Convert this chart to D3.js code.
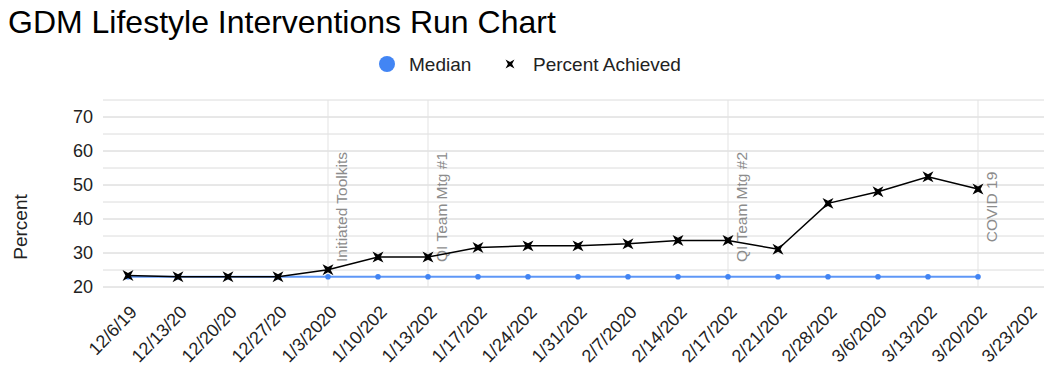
<!DOCTYPE html>
<html><head><meta charset="utf-8">
<script src="https://cdn.jsdelivr.net/npm/d3@7"></script>
<style>
body{margin:0;background:#fff;overflow:hidden}
svg{display:block;font-family:Arial,"Liberation Sans",sans-serif}
</style>
</head><body>
<svg id="chart" width="1044" height="368"></svg>
<script>
// ---- data ----
const categories = ["12/6/19","12/13/20","12/20/20","12/27/20","1/3/2020","1/10/202","1/13/202","1/17/202","1/24/202","1/31/202","2/7/2020","2/14/202","2/17/202","2/21/202","2/28/202","3/6/2020","3/13/202","3/20/202","3/23/202"];
const percentAchieved = [23.4,23.0,23.0,23.0,25.1,28.8,28.8,31.6,32.1,32.1,32.7,33.7,33.7,31.1,44.6,48.0,52.4,48.8];
const median = [23,23,23,23,23,23,23,23,23,23,23,23,23,23,23,23,23,23];
const yTicks = [20,30,40,50,60,70];
const yMinorTicks = [25,35,45,55,65,75];
const annotationDates = ["1/3/2020","1/13/202","2/17/202","3/20/202"];
const annotationTexts = ["Initiated Toolkits","QI Team Mtg #1","QI Team Mtg #2","COVID 19"];

// ---- layout ----
const svg = d3.select("#chart");
const plotLeft = 103, plotTop = 100, plotBottom = 287;
const x = d3.scaleBand().domain(categories).range([plotLeft, plotLeft + categories.length * 50]).padding(0);
const y = d3.scaleLinear().domain([20, 75]).range([plotBottom, plotTop]);
const cx = d => x(d) + x.bandwidth() / 2;
const blue = "#4285f4";

// custom 4-point star "x" marker
const starX = {
  draw(ctx, size) {
    const R = Math.sqrt(size), r = R * 0.33;
    for (let i = 0; i < 8; i++) {
      const a = Math.PI / 4 + i * Math.PI / 4;
      const rad = i % 2 === 0 ? R : r;
      const px = rad * Math.cos(a), py = rad * Math.sin(a);
      if (i === 0) ctx.moveTo(px, py); else ctx.lineTo(px, py);
    }
    ctx.closePath();
  }
};

// title
svg.append("text").attr("x", 8).attr("y", 33).attr("font-size", 32).attr("fill", "#000")
  .text("GDM Lifestyle Interventions Run Chart");

// legend
const lg = svg.append("g");
lg.append("circle").attr("cx", 387).attr("cy", 64).attr("r", 8).attr("fill", blue);
lg.append("text").attr("x", 409).attr("y", 71).attr("font-size", 19).attr("fill", "#222").text("Median");
lg.append("path").attr("transform", "translate(510,64)").attr("d", d3.symbol().type(starX).size(40)()).attr("fill", "#000");
lg.append("text").attr("x", 533).attr("y", 71).attr("font-size", 19).attr("fill", "#222").text("Percent Achieved");

// gridlines
const gridG = svg.append("g");
gridG.selectAll("line.minor").data(yMinorTicks).join("line").attr("class", "minor")
  .attr("x1", plotLeft).attr("x2", 1060).attr("y1", d => y(d)).attr("y2", d => y(d))
  .attr("stroke", "#dcdcdc").attr("stroke-width", 1);
gridG.selectAll("line.major").data(yTicks).join("line").attr("class", "major")
  .attr("x1", plotLeft).attr("x2", 1060).attr("y1", d => y(d)).attr("y2", d => y(d))
  .attr("stroke", "#d0d0d0").attr("stroke-width", 1);

// y axis labels
const yAxis = d3.axisLeft(y).tickValues(yTicks).tickSize(0).tickPadding(0).tickFormat(d3.format("d"));
const yg = svg.append("g").attr("transform", `translate(93,0)`).call(yAxis);
yg.select(".domain").remove();
yg.selectAll("text").attr("font-size", 18).attr("fill", "#222").attr("font-family", "Arial, 'Liberation Sans', sans-serif");

// y title
svg.append("text").attr("transform", "translate(27,227) rotate(-90)").attr("text-anchor", "middle")
  .attr("font-size", 19).attr("fill", "#222").text("Percent");

// x axis labels
const xAxis = d3.axisBottom(x).tickSize(0).tickPadding(0);
const xg = svg.append("g").attr("transform", `translate(0,${plotBottom})`).call(xAxis);
xg.select(".domain").remove();
xg.selectAll(".tick text")
  .attr("font-size", 18).attr("fill", "#222").attr("font-family", "Arial, 'Liberation Sans', sans-serif")
  .attr("text-anchor", "end").attr("dy", null).attr("y", null)
  .attr("transform", "translate(10,26) rotate(-46)");

// annotation lines + text
const ann = svg.append("g");
annotationDates.forEach((d, i) => {
  ann.append("line").attr("x1", cx(d)).attr("x2", cx(d)).attr("y1", plotTop).attr("y2", plotBottom)
    .attr("stroke", "#e3e3e3").attr("stroke-width", 1);
});
annotationDates.forEach((d, i) => {
  ann.append("text").attr("transform", `translate(${cx(d) + 19},207) rotate(-90)`)
    .attr("text-anchor", "middle").attr("font-size", 15.5).attr("fill", "#8c8c8c")
    .text(annotationTexts[i]);
});

// median series
const medData = median.map((v, i) => ({c: categories[i], v}));
svg.append("path").datum(medData)
  .attr("d", d3.line().x(d => cx(d.c)).y(d => y(d.v)))
  .attr("fill", "none").attr("stroke", blue).attr("stroke-width", 2).attr("stroke-opacity", 0.85);
svg.append("g").selectAll("circle").data(medData).join("circle")
  .attr("cx", d => cx(d.c)).attr("cy", d => y(d.v)).attr("r", 2.8).attr("fill", blue);

// percent achieved series
const pData = percentAchieved.map((v, i) => ({c: categories[i], v}));
svg.append("path").datum(pData)
  .attr("d", d3.line().x(d => cx(d.c)).y(d => y(d.v)))
  .attr("fill", "none").attr("stroke", "#000").attr("stroke-width", 1.5);
svg.append("g").selectAll("path").data(pData).join("path")
  .attr("transform", d => `translate(${cx(d.c)},${y(d.v)})`)
  .attr("d", d3.symbol().type(starX).size(60)())
  .attr("fill", "#000");
</script>
</body></html>
